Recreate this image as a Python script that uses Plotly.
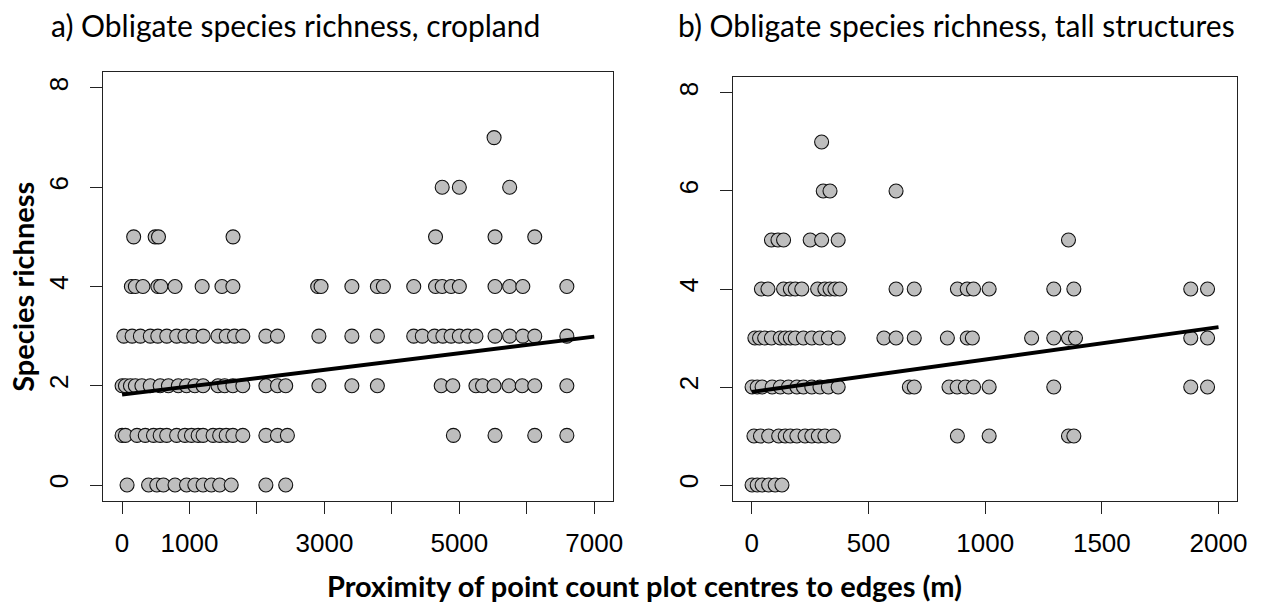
import plotly.graph_objects as go

# ---- Panel a: cropland (distance m, richness) ----
a_r0 = [74, 393, 515, 613, 785, 956, 1079, 1201, 1324, 1447, 1618, 2132, 2426]
a_r1 = [0, 50, 221, 344, 466, 565, 662, 809, 932, 1029, 1128, 1201, 1349, 1447, 1544, 1643,
        1790, 2132, 2304, 2451, 4912, 5529, 6118, 6594]
a_r2 = [0, 50, 124, 197, 294, 418, 565, 687, 834, 956, 1079, 1201, 1422, 1521, 1643, 1790,
        2132, 2304, 2426, 2918, 3407, 3785, 4731, 4903, 5246, 5344, 5515, 5735, 5932, 6118, 6594]
a_r3 = [26, 149, 272, 419, 530, 663, 810, 932, 1055, 1202, 1422, 1545, 1667, 1790, 2132, 2304,
        2918, 3407, 3785, 4324, 4451, 4632, 4756, 4878, 5000, 5124, 5246, 5529, 5746, 5941,
        6118, 6594]
a_r4 = [138, 197, 309, 530, 574, 785, 1187, 1481, 1643, 2900, 2950, 3407, 3785, 3874, 4324,
        4647, 4746, 4878, 5000, 5529, 5746, 5941, 6594]
a_r5 = [172, 490, 540, 1645, 4647, 5529, 6118]
a_r6 = [4746, 5000, 5746]
a_r7 = [5515]
a_fit_x = [0, 7000]
a_fit_y = [1.82, 2.99]

# ---- Panel b: tall structures ----
b_r0 = [1, 23, 44, 72, 100, 129]
b_r1 = [9, 37, 72, 115, 143, 165, 193, 228, 257, 285, 313, 349, 881, 1017, 1357, 1380]
b_r2 = [1, 23, 44, 87, 122, 157, 193, 221, 257, 292, 328, 370, 675, 696, 845, 880, 915, 950,
        1017, 1294, 1881, 1953]
b_r3 = [13, 33, 55, 84, 122, 143, 165, 186, 221, 257, 292, 328, 370, 566, 618, 696, 838, 923,
        945, 1199, 1294, 1357, 1387, 1881, 1953]
b_r4 = [41, 69, 136, 165, 186, 214, 282, 313, 335, 356, 377, 618, 696, 881, 923, 950, 1017,
        1294, 1380, 1881, 1953]
b_r5 = [84, 112, 136, 250, 299, 370, 1357]
b_r6 = [306, 335, 618]
b_r7 = [299]
b_fit_x = [0, 2000]
b_fit_y = [1.90, 3.22]

a_xticks = [0, 1000, 2000, 3000, 4000, 5000, 6000, 7000]
a_xlabels = ["0", "1000", "", "3000", "", "5000", "", "7000"]
b_xticks = [0, 500, 1000, 1500, 2000]
b_xlabels = ["0", "500", "1000", "1500", "2000"]
yticks = [0, 2, 4, 6, 8]

titles = ["a) Obligate species richness, cropland",
          "b) Obligate species richness, tall structures"]
x_title = "Proximity of point count plot centres to edges (m)"
y_title = "Species richness"


def flatten(rows):
    xs, ys = [], []
    for level, vals in enumerate(rows):
        xs += vals
        ys += [level] * len(vals)
    return xs, ys


ax, ay = flatten([a_r0, a_r1, a_r2, a_r3, a_r4, a_r5, a_r6, a_r7])
bx, by = flatten([b_r0, b_r1, b_r2, b_r3, b_r4, b_r5, b_r6, b_r7])

W, H = 1270, 605
marker = dict(size=14, color="#BEBEBE", line=dict(color="#111111", width=1.1))

fig = go.Figure()
fig.add_trace(go.Scatter(x=ax, y=ay, mode="markers", marker=marker, xaxis="x", yaxis="y",
                         showlegend=False))
fig.add_trace(go.Scatter(x=a_fit_x, y=a_fit_y, mode="lines",
                         line=dict(color="black", width=3.8), xaxis="x", yaxis="y",
                         showlegend=False))
fig.add_trace(go.Scatter(x=bx, y=by, mode="markers", marker=marker, xaxis="x2", yaxis="y2",
                         showlegend=False))
fig.add_trace(go.Scatter(x=b_fit_x, y=b_fit_y, mode="lines",
                         line=dict(color="black", width=3.8), xaxis="x2", yaxis="y2",
                         showlegend=False))

tickfont = dict(family="Liberation Sans, Arial", size=26, color="black")
common_x = dict(showline=True, linecolor="#222222", linewidth=1, mirror=True,
                ticks="outside", ticklen=12, tickwidth=1, tickcolor="#222222",
                showgrid=False, zeroline=False, tickfont=tickfont, ticklabelstandoff=7)
common_y = dict(showline=True, linecolor="#222222", linewidth=1, mirror=True,
                ticks="outside", ticklen=12, tickwidth=1, tickcolor="#222222",
                showgrid=False, zeroline=False, tickfont=tickfont, tickangle=-90,
                tickvals=yticks, ticktext=[str(v) for v in yticks], range=[-0.32, 8.32],
                ticklabelstandoff=12)

fig.update_layout(
    width=W, height=H,
    margin=dict(l=0, r=0, t=0, b=0),
    paper_bgcolor="white", plot_bgcolor="white",
    xaxis=dict(domain=[104 / W, 618 / W], range=[-280, 7280], tickvals=a_xticks,
               ticktext=a_xlabels, anchor="y", **common_x),
    yaxis=dict(domain=[1 - 500.9 / H, 1 - 72.1 / H], anchor="x", **common_y),
    xaxis2=dict(domain=[739 / W, 1247 / W], range=[-80, 2080], tickvals=b_xticks,
                ticktext=b_xlabels, anchor="y2", **common_x),
    yaxis2=dict(domain=[1 - 500.7 / H, 1 - 77.3 / H], anchor="x2", **common_y),
)

title_font = dict(family="Lato, Open Sans, sans-serif", size=29, color="black")
panel_font = dict(family="Lato, Open Sans, sans-serif", size=30, color="black")
fig.add_annotation(text=titles[0], xref="paper", yref="paper", x=49 / W, y=1 - 25 / H,
                   xanchor="left", yanchor="middle", showarrow=False, font=panel_font)
fig.add_annotation(text=titles[1], xref="paper", yref="paper", x=681 / W, y=1 - 25 / H,
                   xanchor="left", yanchor="middle", showarrow=False, font=panel_font)
fig.add_annotation(text="<b>" + x_title + "</b>", xref="paper", yref="paper", x=650 / W,
                   y=1 - 585 / H, xanchor="center", yanchor="middle", showarrow=False,
                   font=title_font)
fig.add_annotation(text="<b>" + y_title + "</b>", xref="paper", yref="paper", x=22 / W,
                   y=1 - 287 / H, xanchor="center", yanchor="middle", showarrow=False,
                   textangle=-90, font=title_font)

fig.write_html("out.html")
